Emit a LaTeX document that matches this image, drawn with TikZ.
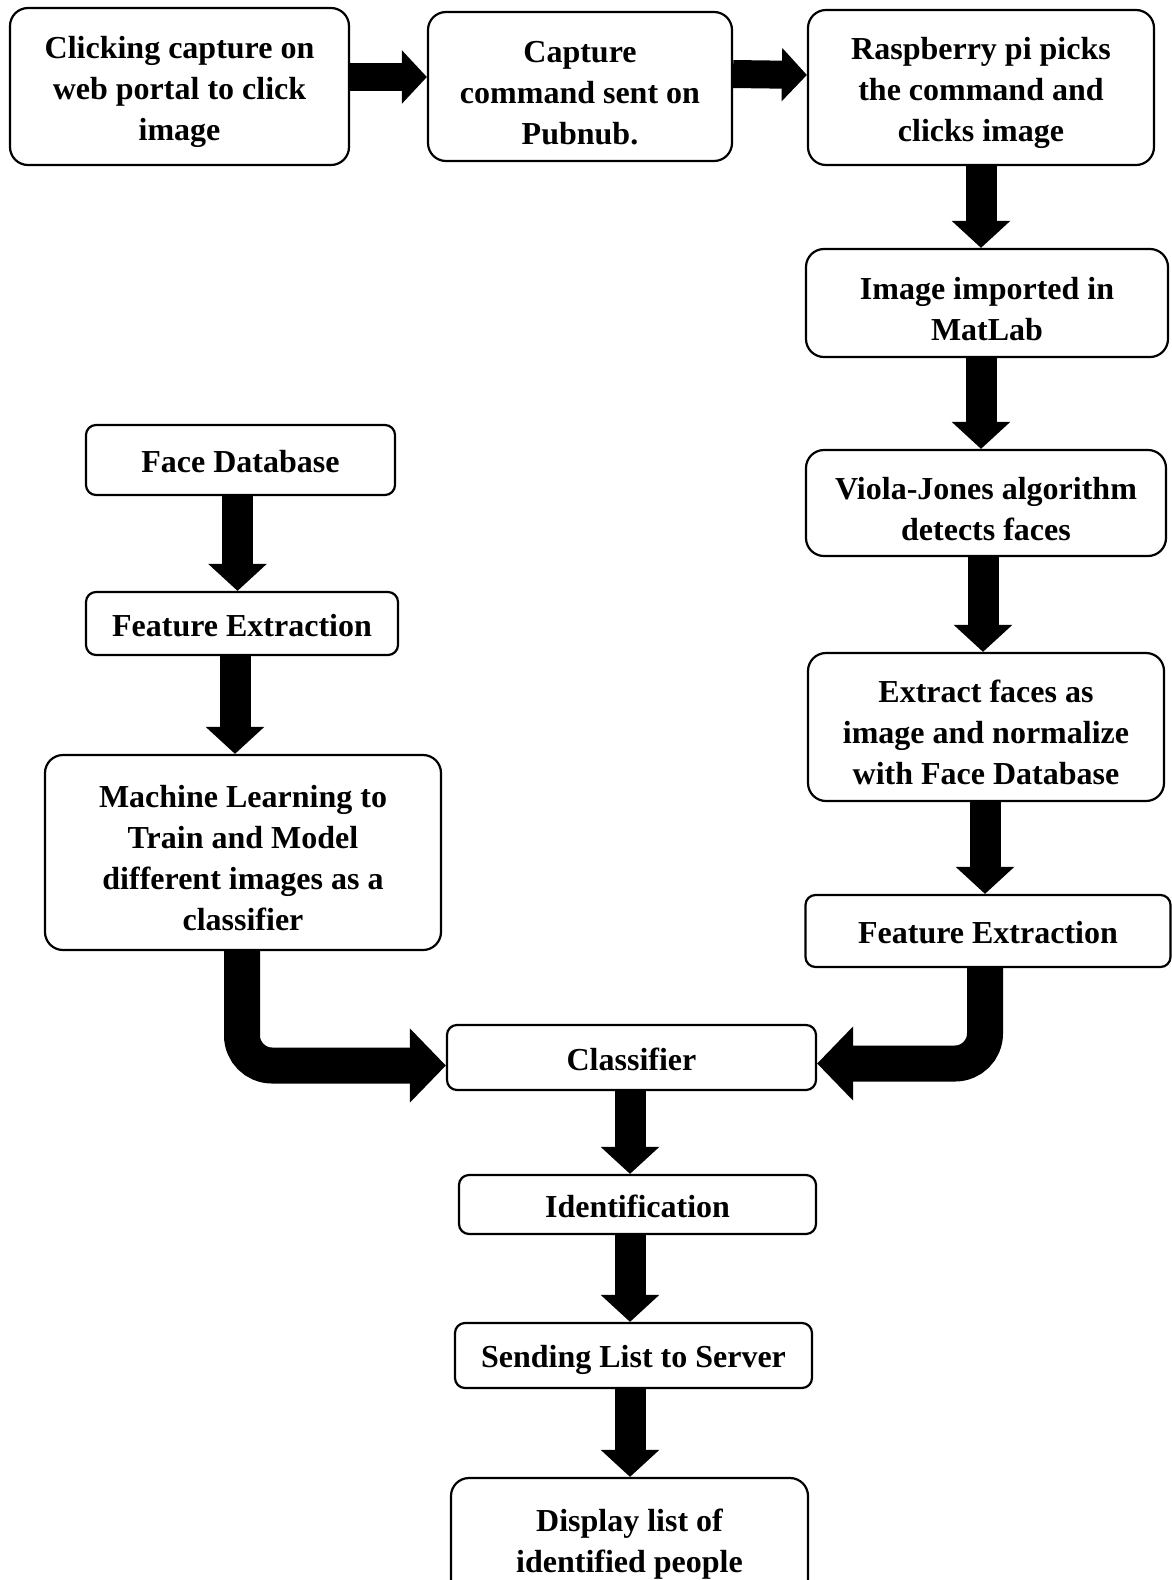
\documentclass[tikz,border=0pt]{standalone}
\usepackage{fontspec}
\setmainfont{Liberation Serif}
\usetikzlibrary{arrows.meta}
\newcommand{\padtop}{\rule{0pt}{34pt}}

\begin{document}
\begin{tikzpicture}[x=1pt,y=1pt,
  bigbox/.style={draw, line width=2.2pt, rounded corners=18pt, inner sep=0pt, align=center},
  smallbox/.style={draw, line width=2.2pt, rounded corners=10pt, inner sep=0pt, align=center,
     execute at begin node={\rule{0pt}{32pt}}, execute at end node={\rule[-7pt]{0pt}{7pt}}},
  blockarrow/.style={line width=31pt, -{Triangle[length=27pt,width=57pt]}},
  sidearrow/.style={line width=28pt, -{Triangle[length=25pt,width=52pt]}},
  bentarrow/.style={line width=36pt, rounded corners=30pt, -{Triangle[length=36pt,width=72pt]}}]
 \path[use as bounding box, fill=white] (0,0) rectangle (1171,-1580);
 \begin{scope}[every node/.style={font=\fontsize{32}{41}\selectfont\bfseries}]
   \node (click) [bigbox, minimum width=339pt, minimum height=157pt] at (179.5,-86.5) {\padtop Clicking capture on\\web portal to click\\image};
   \node (pubnub) [bigbox, minimum width=304pt, minimum height=149pt] at (580,-86.5) {\padtop Capture\\command sent on\\Pubnub.};
   \node (rpi) [bigbox, minimum width=346pt, minimum height=155pt] at (981,-87.5) {\padtop Raspberry pi picks\\the command and\\clicks image};
   \node (matlab) [bigbox, minimum width=362pt, minimum height=108pt] at (987,-303) {\padtop Image imported in\\MatLab};
   \node (viola) [bigbox, minimum width=360pt, minimum height=106pt] at (986,-503) {\padtop Viola-Jones algorithm\\detects faces};
   \node (extract) [bigbox, minimum width=356pt, minimum height=148pt] at (986,-727) {\padtop Extract faces as\\image and normalize\\with Face Database};
   \node (featr) [smallbox, minimum width=365pt, minimum height=72pt] at (988,-931) {Feature Extraction};
   \node (facedb) [smallbox, minimum width=309pt, minimum height=70pt] at (240.5,-460) {Face Database};
   \node (featl) [smallbox, minimum width=312pt, minimum height=63pt] at (242,-623.5) {Feature Extraction};
   \node (learn) [bigbox, minimum width=396pt, minimum height=195pt] at (243,-852.5) {\padtop Machine Learning to\\Train and Model\\different images as a\\classifier};
   \node (classify) [smallbox, minimum width=369pt, minimum height=65pt] at (631.5,-1057.5) {Classifier};
   \node (ident) [smallbox, minimum width=357pt, minimum height=59pt] at (637.5,-1204.5) {Identification};
   \node (send) [smallbox, minimum width=357pt, minimum height=65pt] at (633.5,-1355.5) {Sending List to Server};
   \node (show) [bigbox, minimum width=357pt, minimum height=120pt] at (629.5,-1538) {\padtop Display list of\\identified people};
 \end{scope}
 \draw[sidearrow] ([yshift=9.5pt]click.east) -- ([yshift=9.5pt]pubnub.west);
 \draw[sidearrow] ([yshift=12.5pt]pubnub.east) -- ([yshift=12.5pt]rpi.west);
 \draw[blockarrow] (rpi.south) -- (rpi.south |- matlab.north);
 \draw[blockarrow] ([xshift=-6pt]matlab.south) -- ([xshift=-6pt]matlab.south |- viola.north);
 \draw[blockarrow] ([xshift=-3pt]viola.south) -- ([xshift=-3pt]viola.south |- extract.north);
 \draw[blockarrow] ([xshift=-1pt]extract.south) -- ([xshift=-1pt]extract.south |- featr.north);
 \draw[blockarrow] ([xshift=-3pt]facedb.south) -- ([xshift=-3pt]facedb.south |- featl.north);
 \draw[blockarrow] ([xshift=-7pt]featl.south) -- ([xshift=-7pt]featl.south |- learn.north);
 \draw[bentarrow] ([xshift=-1pt]learn.south) |- ([yshift=-8pt]classify.west);
 \draw[bentarrow] ([xshift=-3pt]featr.south) |- ([yshift=-6pt]classify.east);
 \draw[blockarrow] ([xshift=-1.5pt]classify.south) -- ([xshift=-1.5pt]classify.south |- ident.north);
 \draw[blockarrow] ([xshift=-7.5pt]ident.south) -- ([xshift=-7.5pt]ident.south |- send.north);
 \draw[blockarrow] ([xshift=-3.5pt]send.south) -- ([xshift=-3.5pt]send.south |- show.north);
\end{tikzpicture}
\end{document}
